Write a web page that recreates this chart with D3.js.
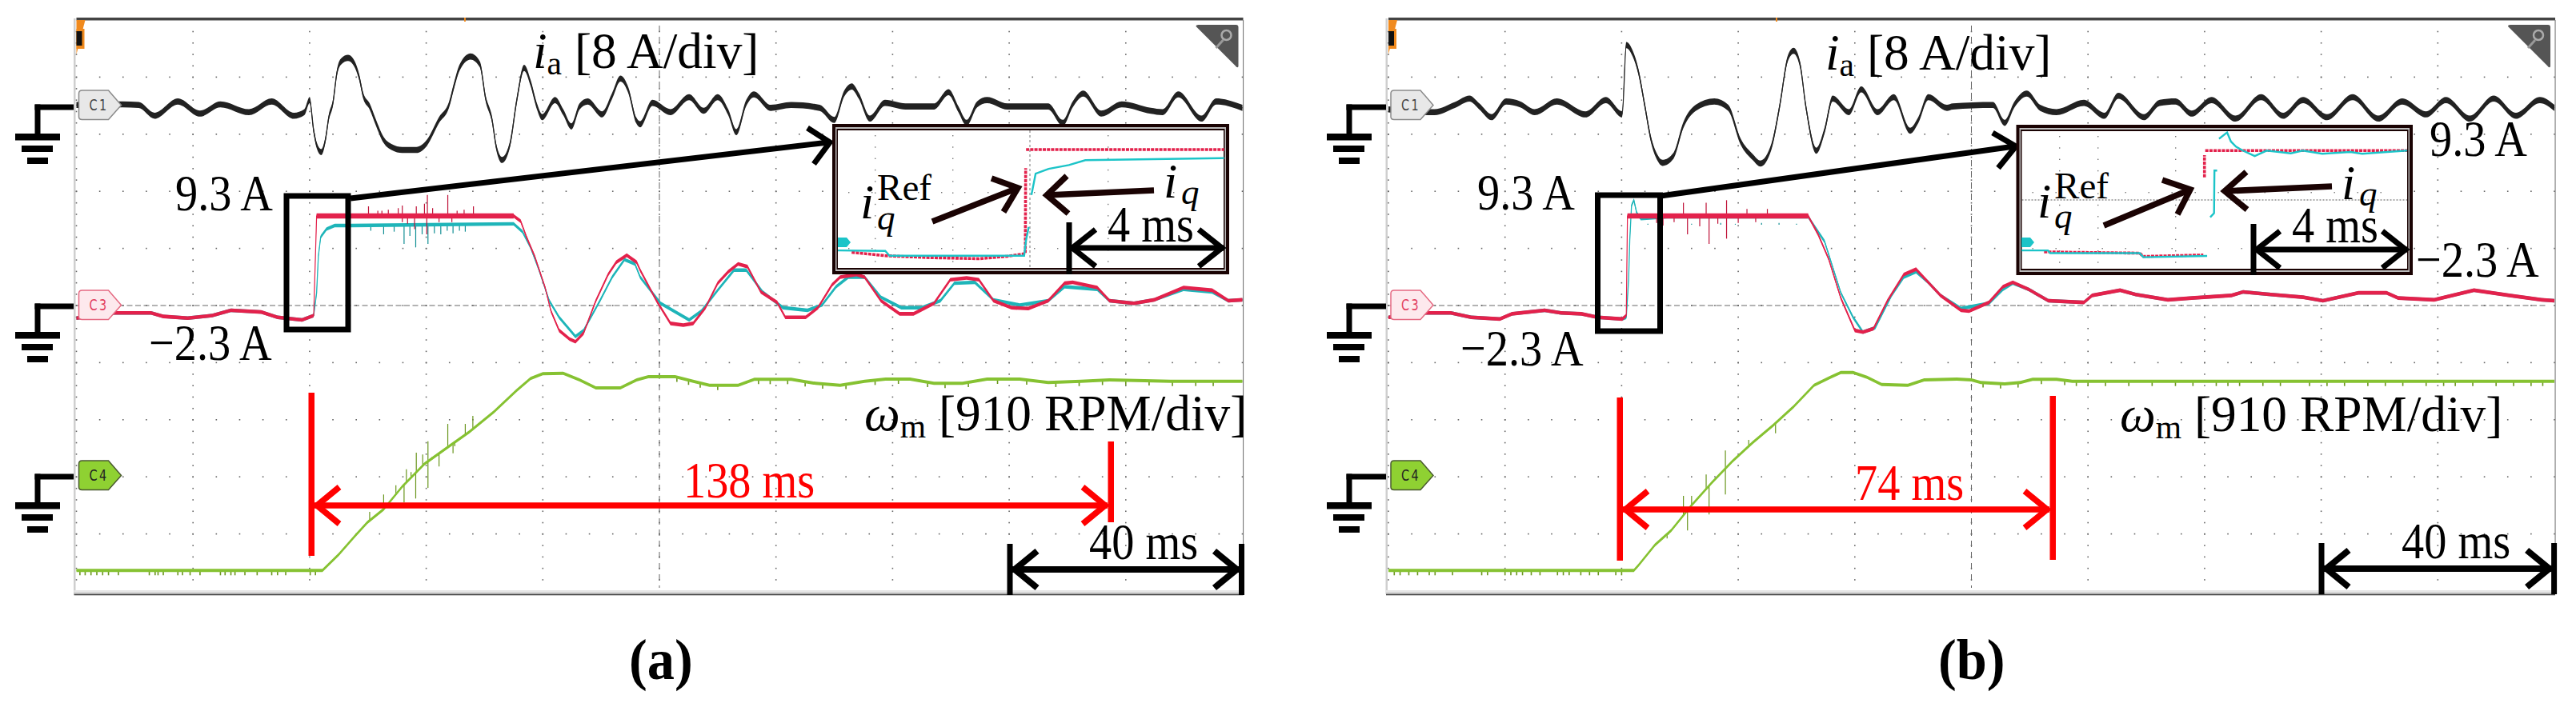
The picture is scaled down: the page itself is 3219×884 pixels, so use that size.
<!DOCTYPE html>
<html><head><meta charset="utf-8">
<script src="https://cdnjs.cloudflare.com/ajax/libs/d3/7.8.5/d3.min.js"></script>
<style>html,body{margin:0;padding:0;background:#fff;overflow:hidden}svg{display:block}text{font-family:"Liberation Serif",serif}</style>
</head><body><svg id="c" width="3219" height="884"></svg>
<script>
// ---------- panel (a) readings: time in ms, currents in A, speed in RPM ----------
const iaA_t=[0,7.9,10.7,13.4,17.4,21.2,24.7,29.6,33.5,37.3,39.1,40,40.7,41.2,42,42.7,43.3,44,44.7,45.4,46.6,47.8,48.5,49.2,50.3,51.3,52.7,54.1,55.9,58.3,60.1,62.2,63.9,64.8,65.7,67.6,69.2,70.2,71.3,72,73,74.4,75.5,76.8,77.9,79,79.9,82.1,83.5,84.9,86.3,87.7,90.2,91.9,93.3,94.7,96,96.7,98.8,101.9,105.1,107.6,110,111.8,113.2,114.9,116.2,119.1,122.6,127.5,130,131.7,133,134.2,136.1,138.7,142.2,147.1,149.6,151.3,152.7,154.5,156.2,159.7,166.7,169.2,170.9,172.7,175.8,179.3,184.3,186.3,189,193,195.5,200];
const iaA_v=[.3,.4,.3,-1.2,.8,-.9,.4,-.7,.8,-1.2,-.7,1,-3.3,-5.3,-6.3,-4.6,-1.4,.6,4.9,6.4,6.9,5.9,4.2,1.6,.1,-2,-4.6,-5.6,-6,-6,-5,-1.8,.3,3.1,5.5,7.1,6,1.2,-1.8,-5.5,-7.4,-5.1,.8,5.5,3.4,.1,-1.4,1,-.7,-2.7,.1,.8,-1,1.6,4,2.3,-1.8,-2.4,.6,-.7,1.4,-.5,1.4,-.7,-3.5,.6,1.8,-.1,.3,-.1,-1.8,1.9,2.9,1.6,-1.6,.6,.1,.1,2.1,-.3,-2.2,.4,1,.1,.1,-2.2,.4,1.9,-.9,.4,-.5,-.7,1.8,-1.6,.8,-.1];
const refA_t=[0,6.5,12.8,14.9,19.1,23.3,26.5,31.7,34.5,38.7,40.7,41.2,75,76.2,77.2,78.6,80.4,81.4,82.8,84.6,85.6,87,89.1,91.2,92.6,94.4,96.1,96.7,99.5,101.9,104.1,105.8,107.9,110,111.8,113.5,115.1,117.4,120.2,121.6,125.1,127.2,129.6,131,133.8,135.2,138,141.2,143.6,147.1,149.9,152.7,154.8,157.3,160.4,163.3,166.7,169.5,170.9,175.1,177.2,181.4,184.9,189.9,194.8,197.6,200];
const refA_v=[-2.4,-1.8,-1.8,-2.2,-2.4,-2.1,-1.5,-1.7,-2.3,-2.6,-2.1,9.3,9.3,8.7,6.9,4.7,1.1,-1.6,-3.8,-4.8,-5.1,-4.1,-.4,2.6,4,4.8,4,3.1,-.4,-3,-3.2,-3,-1.2,1.6,2.9,3.8,3.5,.6,-.6,-2.3,-2.3,-1.2,1.4,2.3,2.6,2.3,-.4,-1.9,-1.9,-.7,2,2.2,2,-.4,-1.2,-1.3,-.4,1.6,1.7,1.1,-.4,-.7,-.3,1.1,.8,-.4,-.3];
const iqA_t=[0,6.5,12.8,14.9,19.1,23.3,26.5,31.7,34.5,38.7,40.7,41.2,41.5,41.9,42.9,44.3,47.1,75,76.5,77.9,79.3,81.1,82.8,85.6,87,89.8,91.9,94,95.8,96.7,100.2,105.1,107.2,110,112.8,114.9,117.7,121.2,125.4,127.9,130.3,132.4,135.2,138,141.5,145,148.2,150.6,154.1,157.3,161.8,166.7,169.5,175.1,177.2,181.4,184.9,189.9,194.8,197.6,200];
const iqA_v=[-2.4,-1.8,-1.8,-2.2,-2.4,-2.1,-1.5,-1.7,-2.3,-2.6,-2.1,.5,4.7,6.9,7.8,8.2,8.2,8.4,7.5,5.7,3.2,-.4,-2.3,-4.5,-3.8,-.4,2.3,4.3,3.8,2.3,-.7,-2.6,-1.6,.8,3.1,3.1,.6,-1.2,-1.5,-.9,1.2,2.3,2.3,0,-1.2,-1.2,-.4,1.6,1.7,-.3,-.9,-.4,1.2,.9,-.4,-.7,-.3,.9,.6,-.4,-.3];
const wA_t=[0,42.2,42.9,45,47.8,49.9,52.7,55.9,59.7,63.2,67.4,71.6,75.5,77.9,80,83.5,86.3,89.1,93.3,96.1,98.1,102.7,105.8,108.6,113.5,116.3,122.6,126.8,131,135.2,138.8,143,147.1,152,156.2,161.8,166.7,172.3,177.2,187.7,200];
const wA_v=[-1508,-1508,-1444,-1253,-956,-743,-531,-170,191,425,701,1020,1359,1551,1627,1635,1529,1402,1402,1529,1580,1580,1508,1444,1444,1538,1538,1474,1444,1508,1542,1542,1474,1474,1542,1542,1487,1508,1529,1508,1508];
const refSpA_t=[50.1,51.7,55.2,55.9,58.3,59.7,60.2,61.1,63.7,65.3,68.1,58,60.1,55.9,52.4,53.5,56.8,62.2,64.4,66.5];
const refSpA_v=[10.4,9.9,10.2,10.5,10.4,10.7,11.7,10.2,11.7,9.9,10.4,7.8,7.2,8.6,9.9,10,8.4,8.6,8.6,10];
const iqSpA_t=[52.7,56.2,58.2,60.3,62.5,64.6,66.7,50.5,54.5,57.2,59.3,61.4,63.6,65.7];
const iqSpA_v=[7.2,6.1,5.7,6.1,7.2,7.3,7.5,7.6,7.5,7,7.2,7.3,7.6,7.6];
const wSpA_t=[58.2,60.3,60.3,63.7,62.2,58.3,56.6,54.8,52.7,68,66.7,64.6,56.2,50.3,59.4,61,64.9,57.4];
const wSpA_v=[-361,552,-191,828,149,370,106,-149,-297,956,828,361,-425,-573,340,300,470,60];
const wTickA_t=[.6,1.5,2.5,3.5,4.5,5.5,7.2,12.5,13.5,14,14.9,17.4,18.2,19.5,21.2,24.7,25.5,26.5,27.2,28.9,31,33.5,34.5,35.9,40.1,41,103,105,107,110,117,119,122,125,128,132,137,141,146,149,153,158,163,168,172,176,180,184,188,192,195];
// ---------- panel (b) readings ----------
const iaB_t=[0,7.9,11.4,13.9,15.6,17.7,20.2,22.6,25.1,28.9,33.8,37.3,40.1,40.8,41.9,42.9,44,45,46.1,47,48.9,50.6,52.7,55.9,58.3,60.4,62.5,63.8,65.7,67.1,68.5,69.5,70.6,71.6,73.4,74.8,76.2,79,81.1,83.9,86.7,89.5,90.9,92.6,95.8,96.8,103.7,105.7,107.4,109.5,111.8,114.6,119.3,122.8,125.2,129.6,132.3,135,137.8,141.2,145.3,149.7,153.5,156.9,161,165.4,169.8,173.9,178,181.4,185.5,189.6,193.4,197.5,200];
const iaB_v=[-.3,-.7,.3,1.2,.1,-1.4,.8,.4,-.7,.8,-1,1,-1,8.7,7.5,4.9,.1,-4.4,-7,-7.8,-6.8,-2.5,-.1,.8,-.1,-4.8,-7,-7.9,-5.5,.1,6.8,7.9,6,.1,-6.1,-3.3,1.2,-.7,2.5,-.7,1.4,-3.3,-1.8,1.4,-.1,.1,.3,-2.2,.4,1.9,-.1,-.7,.6,-1.2,1.6,-1.4,.6,.8,-.9,1,-1.6,1.4,-1.2,1,-1.4,1.4,-1.6,.8,-1,1,-1.6,1.2,-1.2,1,-.1];
const refB_t=[0,6.5,10.7,14.2,19.1,21.2,26.8,29.6,33.1,35.9,40.1,40.8,41,72,73.7,75.5,77.6,80,81.4,83.2,85.6,88.4,90.5,92.6,94.7,98.2,99.6,103,105.4,107.1,109.8,113.2,119.3,120.7,125.5,128.2,133.7,137.8,144.6,146.6,151.4,156.9,160.3,166.4,171.2,173.2,179.4,186.2,192.3,197.8,200];
const refB_v=[-2.3,-1.8,-1.8,-2.3,-2.5,-1.9,-1.5,-1.8,-1.9,-2.3,-2.5,-2.1,9.3,9.3,7.2,4.4,-.1,-3.8,-4,-3.6,-.4,2.6,3.2,1.7,.2,-1.5,-1.6,-.6,1.2,1.7,.9,-.4,-.6,.2,.8,.3,-.3,-.1,.2,.6,.3,0,-.4,.5,.5,-.1,-.3,.8,.2,-.3,-.4];
const iqB_t=[0,6.5,10.7,14.2,19.1,21.2,26.8,29.6,33.1,35.9,40.1,40.8,41.2,41.4,41.7,42.1,42.6,43.3,47.8,72,74.8,77.6,79.7,81.4,83.5,86.3,88.4,90.5,92.6,94.7,98.2,103,105.4,107.1,109.8,113.2,119.3,120.7,125.5,128.2,133.7,137.8,144.6,146.6,151.4,156.9,160.3,166.4,171.2,173.2,179.4,186.2,192.3,197.8,200];
const iqB_v=[-2.3,-1.8,-1.8,-2.3,-2.5,-1.9,-1.5,-1.8,-1.9,-2.3,-2.5,-2.3,2,6.6,10.5,11.1,9.6,9,9.2,9.2,6.4,.5,-2.3,-4,-3.5,.2,2.3,2.9,1.7,.2,-1.3,-.7,.9,1.6,.9,-.4,-.6,.2,.8,.3,-.3,-.1,.2,.6,.3,0,-.4,.5,.5,-.1,-.3,.8,.2,-.3,-.4];
const wB_t=[0,42.1,42.9,45.7,48.5,52,55.5,59,62.5,66,69.5,73,75.8,77.6,79.7,82.1,84.6,89.1,91.9,97.5,100,101.6,105.7,108.4,110.5,114.6,117.3,200];
const wB_v=[-1508,-1508,-1423,-1104,-871,-467,-106,234,531,807,1104,1444,1572,1648,1648,1572,1457,1444,1529,1542,1529,1487,1466,1487,1538,1538,1508,1508];
const refSpB_t=[50.6,51.3,54.5,55,58,58,61.5,65,47.1,53.4,46,49,56.5,60,63];
const refSpB_v=[10.8,7.2,10.8,6.1,11.1,6.7,10.1,10.1,8.2,8.1,8.5,8.6,8.4,8.5,8.6];
const iqSpB_t=[44.5,46.5,48,52,57,59.5,64,67,70];
const iqSpB_v=[8.4,8.5,8.3,8.4,8.5,8.4,8.5,8.5,8.4];
const wSpB_t=[57.8,57.8,54.5,55,51.3,50.6,52,66.4,61.8,47.8];
const wSpB_v=[404,-297,21,-616,-871,-319,-319,680,574,-998];
const wTickB_t=[1,2,3.5,5,7,8,11,16,17,20,21,22,23,24.5,26,29,30,31,33,34.5,36,39,40,102,105,108,112,116,118,120,123,127,131,135,138,142,144,146,150,153,158,161,164,168,171,174,178,181,183,186,190,193,196,198];
// ---------- inset readings: time in ms from the inset's left edge, current in A; null breaks the trace ----------
const insRefA_t=[.36,1.24,2.3,3.7,4.44,4.9,4.91,null,4.92,10.1];
const insRefA_v=[-1.9,-2.27,-2.47,-2.6,-2.33,-2.04,7.27,null,9.3,9.3];
const insIqA_t=[0,1.24,1.35,4.87,4.92,4.99,null,5.06,5.13,5.17,5.51,6.04,6.47,10.1];
const insIqA_v=[-1.7,-1.75,-2.27,-2.27,-.58,.87,null,4.36,5.81,6.68,7.2,7.61,8.14,8.37];
const insRefB_t=[.59,3.08,3.18,4.74,null,4.77,4.77,null,4.79,10.05];
const insRefB_v=[-1.86,-2,-2.36,-2.2,null,6.36,8.8,null,9.3,9.3];
const insIqB_t=[0,.69,.75,3.08,3.18,4.84,null,4.92,5.02,5.03,5.1,null,5.15,5.36,5.46,5.59,5.77,6.08,6.39,7.02,7.33,7.84,8.57,8.88,10.05];
const insIqB_v=[-1.7,-1.7,-2,-2,-2.45,-2.3,null,1.96,2.4,7.1,7.1,null,10.6,11.3,10.3,9.74,9.3,8.7,9.3,9,9.3,8.95,9.15,8.95,9.3];
// ---------- labels ----------
const panelLetters=["(a)","(b)"];
const spanLabels=["138 ms","74 ms"];
const divLabels=["8 A/div","910 RPM/div"];
const levelLabels=["9.3 A","\u22122.3 A"];
const timeLabels=["40 ms","4 ms"];

const colors={black:"#222",cyan:"#1fb5b9",red:"#e3224c",redDark:"#bf1238",cyanDark:"#128f94",green:"#86c232",greenDark:"#6a961e",ink:"#000",arrow:"#e00",dark:"#1a0303"};
const svg=d3.select("#c");
svg.append("rect").attr("width",3219).attr("height",884).attr("fill","#fff");

function poly(g,pts,stroke,w){g.append("polyline").attr("points",pts.map(p=>p.join(",")).join(" ")).attr("fill","none").attr("stroke",stroke).attr("stroke-width",w).attr("stroke-linejoin","miter").attr("stroke-linecap","butt");}
function rect(g,x,y,w,h,f){return g.append("rect").attr("x",x).attr("y",y).attr("width",w).attr("height",h).attr("fill",f);}
// Narrow serif text: the source figure is horizontally condensed.
function label(g,x,y,parts,o={}){
  const size=o.size||64,sx=o.sx||.88;
  const t=g.append("text").attr("transform",`translate(${x},${y}) scale(${sx},1)`).attr("font-size",size).attr("fill",o.fill||colors.ink).attr("font-weight",o.bold?"bold":null).attr("xml:space","preserve");
  parts.forEach(p=>{const s=t.append("tspan").text(p.t);
    if(p.i)s.attr("font-style","italic");
    if(p.dy)s.attr("dy",p.dy);
    if(p.s)s.attr("font-size",p.s);
    if(p.dx)s.attr("dx",p.dx);});
}
function ground(g,o,cx,right,y,bar){
  rect(g,cx-3.5,y-3.5,right-cx+3.5,7,"#000");
  rect(g,cx-3.5,y-3.5,7,bar-y+4,"#000");
  rect(g,cx-28,bar,56,8.5,"#000");
  rect(g,cx-20,bar+15,39,8,"#000");
  rect(g,cx-13,bar+30,26,8,"#000");
}
function badge(g,x,y,name,fill,stroke,ink){
  g.append("path").attr("d",`M${x+4},${y}L${x+37},${y}L${x+53},${y+18.5}L${x+37},${y+36.5}L${x+4},${y+36.5}Q${x},${y+36.5} ${x},${y+33}L${x},${y+4}Q${x},${y} ${x+4},${y}Z`).attr("fill",fill).attr("stroke",stroke).attr("stroke-width",1.5);
  g.append("text").attr("transform",`translate(${x+13},${y+25}) scale(.8,1.1)`).style("font-family","'DejaVu Sans'").attr("font-size",18).attr("letter-spacing",3).attr("fill",ink).text(name);
}
function doubleArrow(g,x1,x2,y,reach,hx,hh,col,w){
  poly(g,[[x1,y],[x2,y]],col,w);
  poly(g,[[x1+hx,y-hh],[x1+reach,y],[x1+hx,y+hh]],col,w);
  poly(g,[[x2-hx,y-hh],[x2-reach,y],[x2-hx,y+hh]],col,w);
}

const panels=[
 {id:"a",left:95.5,ia:[iaA_t,iaA_v],ref:[refA_t,refA_v],iq:[iqA_t,iqA_v],w:[wA_t,wA_v],refSp:[refSpA_t,refSpA_v],iqSp:[iqSpA_t,iqSpA_v],wSp:[wSpA_t,wSpA_v],wTick:wTickA_t,
  plateau:[41.2,75],insRef:[insRefA_t,insRefA_v],insIq:[insIqA_t,insIqA_v],
  gx:47,gr:92,orangeT:581,
  box:[358,245,77,167],conn:[[438,248],[1035,178]],head:[[1009,160],[1037,178],[1017,205]],
  ins:[1040,155,496,188],insX:[1047,47.8],insY:[187,11.47],insDash:1287,insDots:[1093,1190,1384],insRows:[240,310],
  r1:{l:[1165,277],t:[1272,235],h:[[1239,223],[1254,265]]},r2:{l:[1442,238],t:[1308,244],h:[[1333,220],[1335,267]]},
  ms4:{bx:1336,x1:1338,x2:1529,y:310,b:[278,343]},
  iaL:666,hi:[219,263],lo:[186,450],
  lRef:[1075,273,1096,250,1096,287],lIq:[1454,247,1476,255],l4:[1384,302],
  wL:[1080,538],spanL:[854,622,spanLabels[0]],ms40:[1262,1551.5,680,712],l40:[1361,699],letter:[786,849,panelLetters[0]],
  span:[389,1388,632,491,695,552,653],right:1553.5,hasRight:false,iaY:85},
 {id:"b",left:1735,ia:[iaB_t,iaB_v],ref:[refB_t,refB_v],iq:[iqB_t,iqB_v],w:[wB_t,wB_v],refSp:[refSpB_t,refSpB_v],iqSp:[iqSpB_t,iqSpB_v],wSp:[wSpB_t,wSpB_v],wTick:wTickB_t,
  plateau:[41,72],insRef:[insRefB_t,insRefB_v],insIq:[insIqB_t,insIqB_v],
  gx:1686,gr:1732,orangeT:2220,
  box:[1996.5,244,78,170],conn:[[2075,245],[2517,183]],head:[[2490,166],[2519,183],[2497,210]],
  ins:[2519.5,156,495.5,188],insX:[2526,47.95],insY:[188.3,11.35],insDash:null,insDots:[2573,2621,2718],insRows:[240,310],
  r1:{l:[2629,282],t:[2737,237],h:[[2702,225],[2721,268]]},r2:{l:[2914,233],t:[2780,239],h:[[2807,215],[2808,262]]},
  ms4:{bx:2816,x1:2818,x2:3008,y:312,b:[280,344]},
  iaL:2281,hi:[1846,262],lo:[1825,457],
  lRef:[2546,272,2568,248,2568,285],lIq:[2926,249,2948,257],l4:[2864,303],
  wL:[2649,539],spanL:[2318,625,spanLabels[1]],ms40:[2901,3191.6,679,711],l40:[3001,698],letter:[2422,849,panelLetters[1]],
  span:[2024,2565,637,497,701,495,700],right:3193,hasRight:true,iaY:87}
];

panels.forEach(P=>{
  const g=svg.append("g").attr("id","panel-"+P.id);
  const x=d3.scaleLinear().domain([0,200]).range([P.left,P.left+1457]);
  const yIa=d3.scaleLinear().domain([0,8]).range([134,62.6]);
  const yIq=d3.scaleLinear().domain([-2.3,9.3]).range([396.7,270]);
  const yW=d3.scaleLinear().domain([0,910]).range([595,523.6]);
  const gridTicks=d3.range(0,201,20);
  const rowY=d3.range(0,11).map(i=>382+(i-5)*71.4);

  // frame
  rect(g,P.left-3.5,23,2.5,720,"#cfcfcf");
  rect(g,P.left,22,1458,3.5,"#444");
  rect(g,P.left-3,738,1461,3,"#e6e6e6");
  rect(g,P.left-3,741,1461,2,"#b5b5b5");
  rect(g,P.left-3,743,1461,1.3,"#444");
  rect(g,P.right-.5,25,1.1,718,"#777");
  rect(g,P.orangeT-1,22,2,5,"#f08a1e");

  // graticule: rows and columns of dots at scale positions
  const dots=g.append("g").attr("fill","#666");
  rowY.slice(1,10).forEach(yy=>{
    dots.selectAll(null).data(d3.range(0,51)).join("rect").attr("x",i=>x(i*4)-.8).attr("y",yy-.8).attr("width",1.6).attr("height",1.6);
  });
  gridTicks.slice(0,10).forEach(t=>{
    dots.selectAll(null).data(d3.range(0,49)).join("rect").attr("x",x(t)-.8).attr("y",i=>39.5+i*14.28-.8).attr("width",1.6).attr("height",1.6);
  });
  g.append("line").attr("x1",x(0)).attr("x2",x(200)-10).attr("y1",382).attr("y2",382).attr("stroke","#666").attr("stroke-width",1).attr("stroke-dasharray","7 3.5");
  g.append("line").attr("x1",x(100)).attr("x2",x(100)).attr("y1",32).attr("y2",735).attr("stroke","#666").attr("stroke-width",1).attr("stroke-dasharray","8 6");

  // traces: a fixed vertical thickness makes slow parts thick and steep edges thin, as on the scope
  function trace(data,y,col,half,lw,curve){
    const pts=d3.zip(data[0],data[1]);
    const area=d3.area().x(d=>x(d[0])).y0(d=>y(d[1])+half).y1(d=>y(d[1])-half).curve(curve||d3.curveLinear);
    const line=d3.line().x(d=>x(d[0])).y(d=>y(d[1])).curve(curve||d3.curveLinear);
    g.append("path").attr("d",area(pts)).attr("fill",col);
    g.append("path").attr("d",line(pts)).attr("fill","none").attr("stroke",col).attr("stroke-width",lw);
  }
  function spikes(data,y,base,col,w){
    return g.append("g").selectAll("line").data(d3.zip(data[0],data[1])).join("line")
     .attr("x1",d=>x(d[0])).attr("x2",d=>x(d[0])).attr("y1",base).attr("y2",d=>y(d[1])).attr("stroke",col).attr("stroke-width",w||1.2);
  }
  trace(P.ia,yIa,colors.black,3.8,1.3,d3.curveMonotoneX);
  spikes(P.iqSp,yIq,yIq(8.3),colors.cyanDark);
  trace(P.iq,yIq,colors.cyan,2.2,1.3);
  spikes(P.refSp,yIq,yIq(9.3),colors.redDark);
  trace(P.ref,yIq,colors.red,2.3,1.2);
  g.append("line").attr("x1",x(P.plateau[0])).attr("x2",x(P.plateau[1])).attr("y1",yIq(9.3)).attr("y2",yIq(9.3)).attr("stroke",colors.red).attr("stroke-width",6.5);
  // green trace with its noise
  const wPts=d3.zip(P.w[0],P.w[1]);
  const wAt=t=>{const i=Math.max(1,d3.bisectLeft(P.w[0],t));const a=wPts[i-1],b=wPts[i];return a[1]+(b[1]-a[1])*(t-a[0])/(b[0]-a[0]);};
  spikes(P.wSp,yW,0,colors.greenDark).attr("y1",d=>yW(wAt(d[0])));
  g.append("g").selectAll("line").data(P.wTick).join("line")
   .attr("x1",t=>x(t)).attr("x2",t=>x(t)).attr("y1",t=>yW(wAt(t))).attr("y2",t=>yW(wAt(t))+6)
   .attr("stroke",colors.greenDark).attr("stroke-width",1.6);
  trace(P.w,yW,colors.green,2,1.2);

  // badges and corner marks
  badge(g,P.left+3,113,"C1","#e8e8e8","#8a8a8a","#444");
  badge(g,P.left+3,363,"C3","#fde9ed","#e56a82","#e2405f");
  badge(g,P.left+3,576,"C4","#8fd132","#4a5a30","#222");
  g.append("path").attr("d",`M${P.left},25L${P.left+11},25L${P.left},68Z`).attr("fill","#f08a1e");
  rect(g,P.left,36,10,25,"#f08a1e"); rect(g,P.left,39,7,18,"#111");
  const rx=P.right-59;
  g.append("path").attr("d",`M${rx},33Q${rx},31 ${rx+3},31L${rx+50},31Q${rx+53},31 ${rx+53},34L${rx+53},83Q${rx+52},86 ${rx+49},82Z`).attr("fill","#555");
  g.append("circle").attr("cx",rx+38).attr("cy",44).attr("r",6).attr("fill","none").attr("stroke","#aaa").attr("stroke-width",2.5);
  g.append("line").attr("x1",rx+34).attr("y1",50).attr("x2",rx+25).attr("y2",60).attr("stroke","#999").attr("stroke-width",3);

  // ground symbols
  ground(g,P,P.gx,P.gr,134,167);
  ground(g,P,P.gx,P.gr,383,415);
  ground(g,P,P.gx,P.gr,596,628);

  // zoom box and connector
  g.append("rect").attr("x",P.box[0]).attr("y",P.box[1]).attr("width",P.box[2]).attr("height",P.box[3]).attr("fill","none").attr("stroke","#000").attr("stroke-width",7);
  poly(g,P.conn,"#000",7);
  poly(g,P.head,"#000",7);

  // inset
  const [ix,iy,iw,ih]=P.ins;
  rect(g,ix,iy,iw,ih,colors.dark);
  rect(g,ix+4,iy+4,iw-8,ih-8,"#bbb");
  rect(g,ix+5.5,iy+6,iw-11,ih-12,colors.dark);
  rect(g,ix+7,iy+8,iw-14,ih-16,"#fff");
  const ins=g.append("g");
  const iX=t=>P.insX[0]+t*P.insX[1], iYf=a=>P.insY[0]+(9.3-a)*P.insY[1];
  P.insDots.forEach(dx=>{ins.selectAll(null).data(d3.range(0,12)).join("rect").attr("x",dx).attr("y",i=>iy+14+i*14.3).attr("width",1.4).attr("height",1.4).attr("fill","#777");});
  P.insRows.forEach(ry=>{ins.selectAll(null).data(d3.range(0,16)).join("rect").attr("x",i=>ix+20+i*29).attr("y",ry).attr("width",1.4).attr("height",1.4).attr("fill","#777");});
  if(P.insDash) ins.append("line").attr("x1",P.insDash).attr("x2",P.insDash).attr("y1",iy+8).attr("y2",iy+ih-8).attr("stroke","#777").attr("stroke-dasharray","3 3");
  else ins.append("line").attr("x1",ix+7).attr("x2",ix+iw-7).attr("y1",250).attr("y2",250).attr("stroke","#555").attr("stroke-dasharray","2 2");
  const insLine=d3.line().defined(d=>d[0]!==null).x(d=>iX(d[0])).y(d=>iYf(d[1]));
  ins.append("path").attr("d",insLine(d3.zip(P.insRef[0],P.insRef[1]))).attr("fill","none").attr("stroke",colors.red).attr("stroke-width",3.6).attr("stroke-dasharray","4 1.2");
  ins.append("path").attr("d",insLine(d3.zip(P.insIq[0],P.insIq[1]))).attr("fill","none").attr("stroke","#1cc4c8").attr("stroke-width",2.4);
  g.append("path").attr("d",`M${P.insX[0]},297L${P.insX[0]+11},297L${P.insX[0]+16},303L${P.insX[0]+11},309L${P.insX[0]},309Z`).attr("fill","#1cc4c8");

  // inset arrows
  [P.r1,P.r2].forEach(r=>{poly(g,[r.l,r.t],colors.dark,7.5);poly(g,[r.h[0],r.t,r.h[1]],colors.dark,7.5);});
  const m=P.ms4;
  rect(g,m.bx-3.5,m.b[0],7,m.b[1]-m.b[0],"#000");
  doubleArrow(g,m.x1,m.x2,m.y,2,31,23,"#000",7);

  // red span
  const s=P.span;
  rect(g,s[0]-3.5,s[3],7.5,s[4]-s[3],"#f00");
  rect(g,s[1]-3.5,s[5],7.5,s[6]-s[5],"#f00");
  doubleArrow(g,s[0]+4,s[1]-4,s[2],3,31,23,"#f00",7.5);
  // 40 ms
  const z=P.ms40;
  rect(g,z[0]-3.5,z[2],7,64,"#000"); rect(g,z[1]-3.5,z[2],7,64,"#000");
  doubleArrow(g,z[0]+3,z[1]-3,z[3],3,31,23,"#000",8);

  // text
  label(g,P.iaL,P.iaY,[{t:"i",i:1},{t:"a",s:42,dy:8},{t:" ["+divLabels[0]+"]",dy:-8}],{sx:.99});
  label(g,P.hi[0],P.hi[1],[{t:levelLabels[0]}]);
  label(g,P.lo[0],P.lo[1],[{t:levelLabels[1]}]);
  if(P.hasRight){label(g,3036,195,[{t:levelLabels[0]}]);label(g,3019,346,[{t:levelLabels[1]}]);}
  // i with q below and Ref above, as one text
  label(g,P.lRef[0],P.lRef[1],[{t:"i",i:1,s:62},{t:"Ref",s:47,dx:3.8,dy:P.lRef[3]-P.lRef[1]},{t:"q",i:1,s:45,dx:-68,dy:P.lRef[5]-P.lRef[3]}],{sx:1,size:62});
  label(g,P.lIq[0],P.lIq[1],[{t:"i",i:1,s:62},{t:"q",i:1,s:45,dx:4.8,dy:P.lIq[3]-P.lIq[1]}],{sx:1,size:62});
  label(g,P.l4[0],P.l4[1],[{t:timeLabels[1]}]);
  label(g,P.wL[0],P.wL[1],[{t:"\u03c9",i:1},{t:"m",s:42,dy:8.5},{t:" ["+divLabels[1]+"]",dy:-8.5}],{sx:.99});
  label(g,P.spanL[0],P.spanL[1],[{t:P.spanL[2]}],{fill:"#f00"});
  label(g,P.l40[0],P.l40[1],[{t:timeLabels[0]}]);
  label(g,P.letter[0],P.letter[1],[{t:P.letter[2]}],{bold:true,size:72,sx:.95});
});
</script></body></html>
